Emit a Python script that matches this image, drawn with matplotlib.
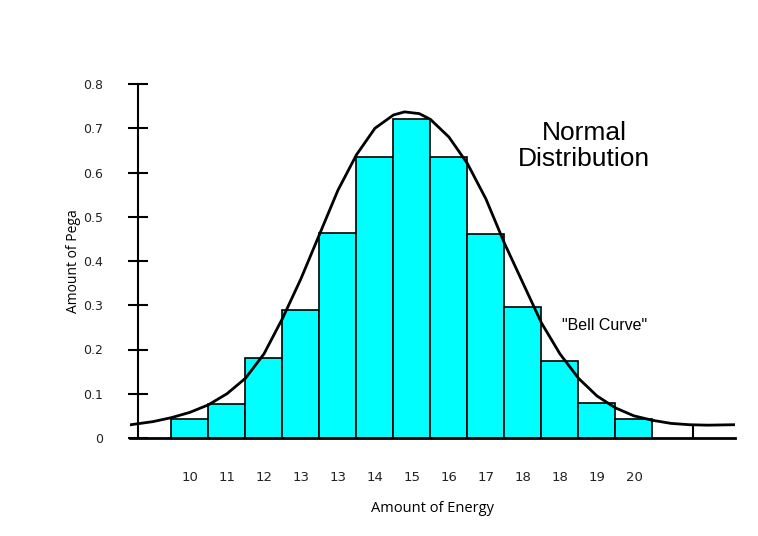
import matplotlib
matplotlib.use("Agg")
import matplotlib.pyplot as plt

# bar heights (one per bin) and the tick labels printed under them
bar_values = [0.043, 0.077, 0.18, 0.29, 0.463, 0.635, 0.72, 0.635, 0.46, 0.297, 0.174, 0.079, 0.043]
tick_labels = ["10", "11", "12", "13", "13", "14", "15", "16", "17", "18", "18", "19", "20"]

# hand-drawn bell curve
curve_x = [-1.6, -1.0, -0.5, 0.0, 0.5, 1.0, 1.5, 2.0, 2.5, 3.0, 3.5, 4.0, 4.5, 5.0, 5.5, 5.8, 6.2,
           6.5, 7.0, 7.5, 8.0, 8.5, 9.0, 9.5, 10.0, 10.5, 11.0, 11.5, 12.0, 12.5, 13.0, 13.5, 14.0, 14.7]
curve_y = [0.030, 0.037, 0.046, 0.058, 0.075, 0.10, 0.135, 0.19, 0.27, 0.36, 0.46, 0.56, 0.64, 0.70, 0.73,
           0.737, 0.733, 0.72, 0.68, 0.62, 0.54, 0.44, 0.35, 0.26, 0.19, 0.135, 0.095, 0.068, 0.05, 0.04,
           0.033, 0.03, 0.029, 0.030]

fig = plt.figure(figsize=(7.58, 5.36), dpi=100)
ax = fig.add_axes([130 / 758, 1 - 438 / 536, (735 - 130) / 758, (438 - 84) / 536])
ax.set_xlim(-1.62, 14.73)
ax.set_ylim(0, 0.8)

x = list(range(len(bar_values)))
ax.bar(x, bar_values, width=1.0, color="#00ffff", edgecolor="black", linewidth=1.2, zorder=2)
ax.plot(curve_x, curve_y, color="black", linewidth=2, zorder=3)

for s in ["top", "right"]:
    ax.spines[s].set_visible(False)
ax.spines["left"].set_position(("data", -1.4))
ax.spines["left"].set_linewidth(1.5)
ax.spines["bottom"].set_linewidth(2)
ax.axvline(13.6, ymax=0.03, color="black", linewidth=1.5)

ax.set_yticks([0, 0.1, 0.2, 0.3, 0.4, 0.5, 0.6, 0.7, 0.8])
ax.set_yticklabels(["0", "0.1", "0.2", "0.3", "0.4", "0.5", "0.6", "0.7", "0.8"])
ax.tick_params(axis="y", direction="inout", length=14, width=1.5, pad=18, labelsize=9,
               labelcolor="#222222")
ax.set_xticks(x)
ax.set_xticklabels(tick_labels)
ax.tick_params(axis="x", length=0, pad=24, labelsize=9.5, labelcolor="#222222")

ax.set_xlabel("Amount of Energy", fontsize=10.5, labelpad=12, family="Open Sans")
ax.set_ylabel("Amount of Pega", fontsize=10, labelpad=2, family="Open Sans")

ax.text(10.65, 0.66, "Normal\nDistribution", fontsize=19, ha="center", va="center",
        family="Liberation Sans", linespacing=1.1)
ax.text(11.2, 0.255, '"Bell Curve"', fontsize=11.5, ha="center", va="center", family="Liberation Sans")

fig.savefig("out.png", dpi=100)
